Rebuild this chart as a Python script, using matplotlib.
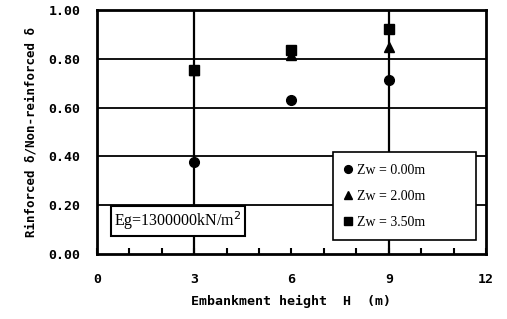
import matplotlib
matplotlib.use("Agg")
import matplotlib.pyplot as plt
from matplotlib.ticker import MultipleLocator

heights = [3, 6, 9]
zw_000 = [0.377, 0.630, 0.713]
zw_200 = [0.752, 0.815, 0.848]
zw_350 = [0.754, 0.836, 0.922]
labels = ["Zw = 0.00m", "Zw = 2.00m", "Zw = 3.50m"]

plt.rcParams['font.family'] = ['Liberation Serif', 'DejaVu Serif']
mono = ['DejaVu Sans Mono']

fig = plt.figure(figsize=(5.07, 3.19), dpi=100)
ax = fig.add_axes([0.1913, 0.2038, 0.7673, 0.7649])

# vertical lines at 3 and 9 as in the original sheet
for xv in [3, 9]:
    ax.axvline(xv, color='black', lw=1.6, zorder=1)
for yv in [0.2, 0.4, 0.6, 0.8]:
    ax.axhline(yv, color='black', lw=1.3, zorder=1)

ax.plot(heights, zw_000, 'o', color='black', ms=7, label=labels[0], zorder=3)
ax.plot(heights, zw_200, '^', color='black', ms=7, label=labels[1], zorder=3)
ax.plot(heights, zw_350, 's', color='black', ms=7.5, label=labels[2], zorder=4)

ax.set_xlim(0, 12)
ax.set_ylim(0, 1.0)
ax.xaxis.set_major_locator(MultipleLocator(3))
ax.xaxis.set_minor_locator(MultipleLocator(1))
ax.yaxis.set_major_locator(MultipleLocator(0.2))
ax.set_yticklabels([f"{v:.2f}" for v in ax.get_yticks()])
ax.tick_params(axis='x', which='both', direction='in', length=4, width=1.5, pad=14)
ax.tick_params(axis='y', which='both', length=0, pad=12)
for lab in ax.get_xticklabels() + ax.get_yticklabels():
    lab.set_fontweight('bold')
    lab.set_fontsize(9.5)
    lab.set_family(mono)

for sp in ax.spines.values():
    sp.set_linewidth(2)

ax.set_xlabel("Embankment height  H  (m)", fontsize=9.5, fontweight='bold',
              family=mono, labelpad=6)
ax.set_ylabel("Rinforced δ/Non-reinforced δ", fontsize=9, fontweight='bold',
              family=mono, labelpad=8)

leg = ax.legend(loc='lower left', bbox_to_anchor=(0.607, 0.057, 0.368, 0.36),
                mode='expand', borderaxespad=0, fontsize=10, frameon=True,
                fancybox=False, edgecolor='black', handlelength=0.6,
                handletextpad=0.3, labelspacing=0.95, borderpad=0.8,
                markerscale=0.8)
leg.get_frame().set_linewidth(1.2)
leg.get_frame().set_alpha(1)

ax.text(0.044, 0.135, "Eg=1300000kN/m$^2$", transform=ax.transAxes,
        fontsize=11.5, va='center', ha='left', zorder=5,
        bbox=dict(boxstyle='square,pad=0.22', fc='white', ec='black', lw=1.5))

fig.savefig("out.png", dpi=100)
